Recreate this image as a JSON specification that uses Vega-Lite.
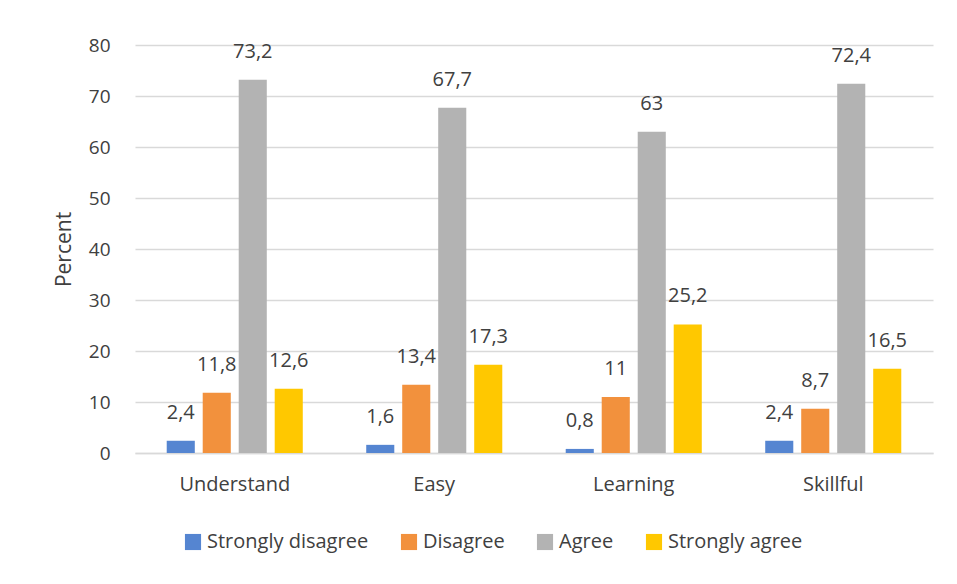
{
  "$schema": "https://vega.github.io/schema/vega-lite/v6.json",
  "width": 798,
  "height": 408,
  "autosize": {"type": "none"},
  "padding": {"left": 135, "top": 45, "right": 24, "bottom": 131},
  "background": "white",
  "config": {
    "font": "Open Sans",
    "view": {"stroke": null},
    "locale": {"number": {"decimal": ",", "thousands": ".", "grouping": [3], "currency": ["", "€"]}}
  },
  "data": {
    "values": [
      {"item": "Understand", "response": "Strongly disagree", "value": 2.4},
      {"item": "Understand", "response": "Disagree", "value": 11.8},
      {"item": "Understand", "response": "Agree", "value": 73.2},
      {"item": "Understand", "response": "Strongly agree", "value": 12.6},
      {"item": "Easy", "response": "Strongly disagree", "value": 1.6},
      {"item": "Easy", "response": "Disagree", "value": 13.4},
      {"item": "Easy", "response": "Agree", "value": 67.7},
      {"item": "Easy", "response": "Strongly agree", "value": 17.3},
      {"item": "Learning", "response": "Strongly disagree", "value": 0.8},
      {"item": "Learning", "response": "Disagree", "value": 11},
      {"item": "Learning", "response": "Agree", "value": 63},
      {"item": "Learning", "response": "Strongly agree", "value": 25.2},
      {"item": "Skillful", "response": "Strongly disagree", "value": 2.4},
      {"item": "Skillful", "response": "Disagree", "value": 8.7},
      {"item": "Skillful", "response": "Agree", "value": 72.4},
      {"item": "Skillful", "response": "Strongly agree", "value": 16.5}
    ]
  },
  "encoding": {
    "x": {
      "field": "item", "type": "nominal",
      "sort": ["Understand", "Easy", "Learning", "Skillful"],
      "scale": {"paddingInner": 0.318, "paddingOuter": 0.159},
      "axis": {
        "title": null, "labelAngle": 0, "domain": true, "domainColor": "#d9d9d9", "domainWidth": 1.5,
        "ticks": false, "labelFontSize": 20, "labelColor": "#404040", "labelPadding": 21
      }
    },
    "xOffset": {
      "field": "response", "type": "nominal",
      "sort": ["Strongly disagree", "Disagree", "Agree", "Strongly agree"],
      "scale": {"paddingInner": 0.22, "paddingOuter": 0}
    },
    "y": {
      "field": "value", "type": "quantitative",
      "scale": {"domain": [0, 80]},
      "axis": {
        "title": "Percent", "titleFontSize": 21, "titleFontWeight": "normal", "titleColor": "#404040", "titlePadding": 14,
        "values": [0, 10, 20, 30, 40, 50, 60, 70, 80], "labelOverlap": false,
        "domain": false, "ticks": false, "labelFontSize": 19, "labelColor": "#404040", "labelPadding": 25,
        "grid": true, "gridColor": "#d9d9d9", "gridWidth": 1.5
      }
    }
  },
  "layer": [
    {
      "mark": {"type": "bar"},
      "encoding": {
        "color": {
          "field": "response", "type": "nominal",
          "sort": ["Strongly disagree", "Disagree", "Agree", "Strongly agree"],
          "scale": {
            "domain": ["Strongly disagree", "Disagree", "Agree", "Strongly agree"],
            "range": ["#5585D1", "#F2913D", "#B3B3B3", "#FFC800"]
          },
          "legend": {
            "title": null, "orient": "none", "direction": "horizontal",
            "legendX": 48, "legendY": 487, "labelLimit": 0,
            "symbolType": "square", "symbolSize": 260, "symbolStrokeWidth": 0,
            "labelFontSize": 20, "labelColor": "#404040", "columnPadding": 30, "labelOffset": 4
          }
        }
      }
    },
    {
      "mark": {"type": "text", "baseline": "bottom", "dy": -18, "fontSize": 20, "color": "#404040"},
      "encoding": {
        "text": {"field": "value", "type": "quantitative", "format": ".1~f"}
      }
    }
  ]
}
